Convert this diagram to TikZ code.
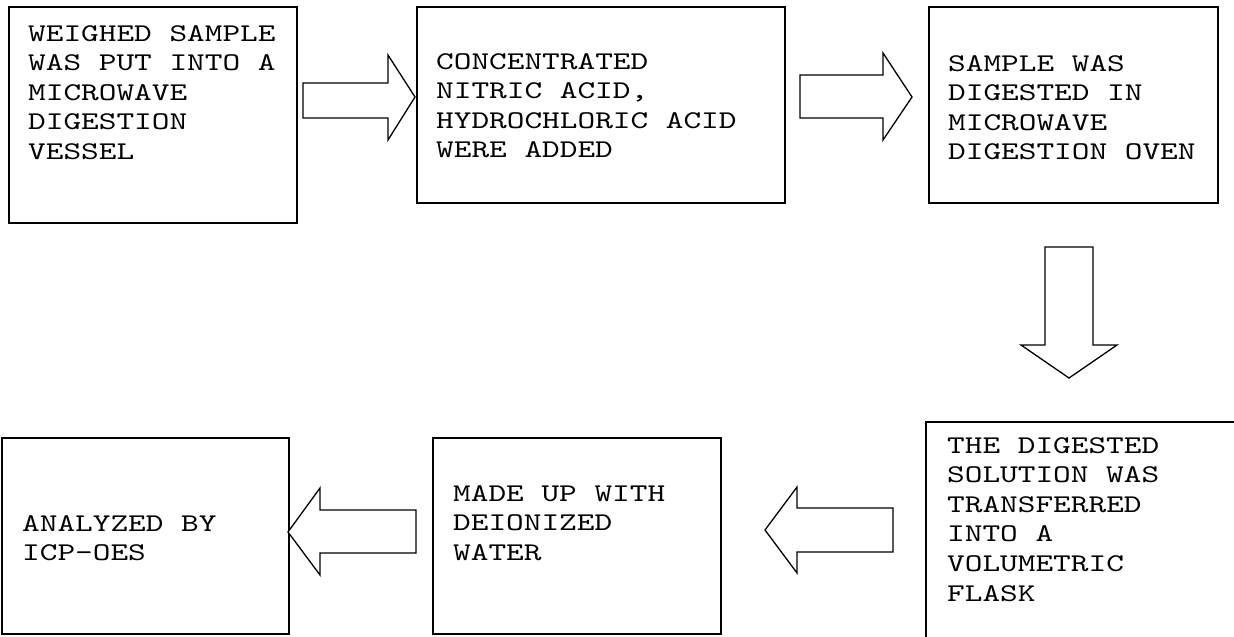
\documentclass[tikz,border=0pt]{standalone}
\usepackage{fontspec}
\newfontfamily\courfont{lmmono10-regular.otf}[FakeStretch=1.32]
\begin{document}
\begin{tikzpicture}[x=1pt,y=-1pt,
  box/.style={draw=black,line width=1.6pt,fill=none,inner sep=0pt,anchor=north west},
  txt/.style={font=\courfont\fontsize{25.5}{29.6}\selectfont,align=left,inner sep=0pt,anchor=north west},
  barrow/.style={draw=black,line width=1.3pt,fill=white,line join=miter}]
\useasboundingbox (0,0) rectangle (1234,637);
\clip (0,0) rectangle (1234,637);
% boxes
\node[box,minimum width=288pt,minimum height=216pt] (b1) at (8,6) {};
\node[box,minimum width=368pt,minimum height=196pt] (b2) at (416,6) {};
\node[box,minimum width=289pt,minimum height=196pt] (b3) at (928,6) {};
\node[box,minimum width=330pt,minimum height=240pt] (b4) at (925,421) {};
\node[box,minimum width=288pt,minimum height=196pt] (b5) at (432,437) {};
\node[box,minimum width=287pt,minimum height=196pt] (b6) at (1,437) {};
% texts
\node[txt] (t1) at (28,25) {WEIGHED SAMPLE\\WAS PUT INTO A\\MICROWAVE\\DIGESTION\\VESSEL};
\node[txt] (t2) at (436,53) {CONCENTRATED\\NITRIC ACID,\\HYDROCHLORIC ACID\\WERE ADDED};
\node[txt] (t3) at (948,55) {SAMPLE WAS\\DIGESTED IN\\MICROWAVE\\DIGESTION OVEN};
\node[txt] (t4) at (947,437) {THE DIGESTED\\SOLUTION WAS\\TRANSFERRED\\INTO A\\VOLUMETRIC\\FLASK};
\node[txt] (t5) at (453,485) {MADE UP WITH\\DEIONIZED\\WATER};
\node[txt] (t6) at (22,515) {ANALYZED BY\\ICP-OES};
% block arrows
\draw[barrow] (303,83) -- (388,83) -- (388,55) -- (415,97) -- (388,140) -- (388,118) -- (303,118) -- cycle;
\draw[barrow] (800,75) -- (883,75) -- (883,53) -- (912,97) -- (883,140) -- (883,118) -- (800,118) -- cycle;
\draw[barrow] (1045,247) -- (1093,247) -- (1093,345) -- (1117,345) -- (1069,378) -- (1021,345) -- (1045,345) -- cycle;
\draw[barrow] (893,508) -- (797,508) -- (797,487) -- (765,530) -- (797,573) -- (797,552) -- (893,552) -- cycle;
\draw[barrow] (416,510) -- (320,510) -- (320,488) -- (288,532) -- (320,575) -- (320,553) -- (416,553) -- cycle;
\end{tikzpicture}
\end{document}
